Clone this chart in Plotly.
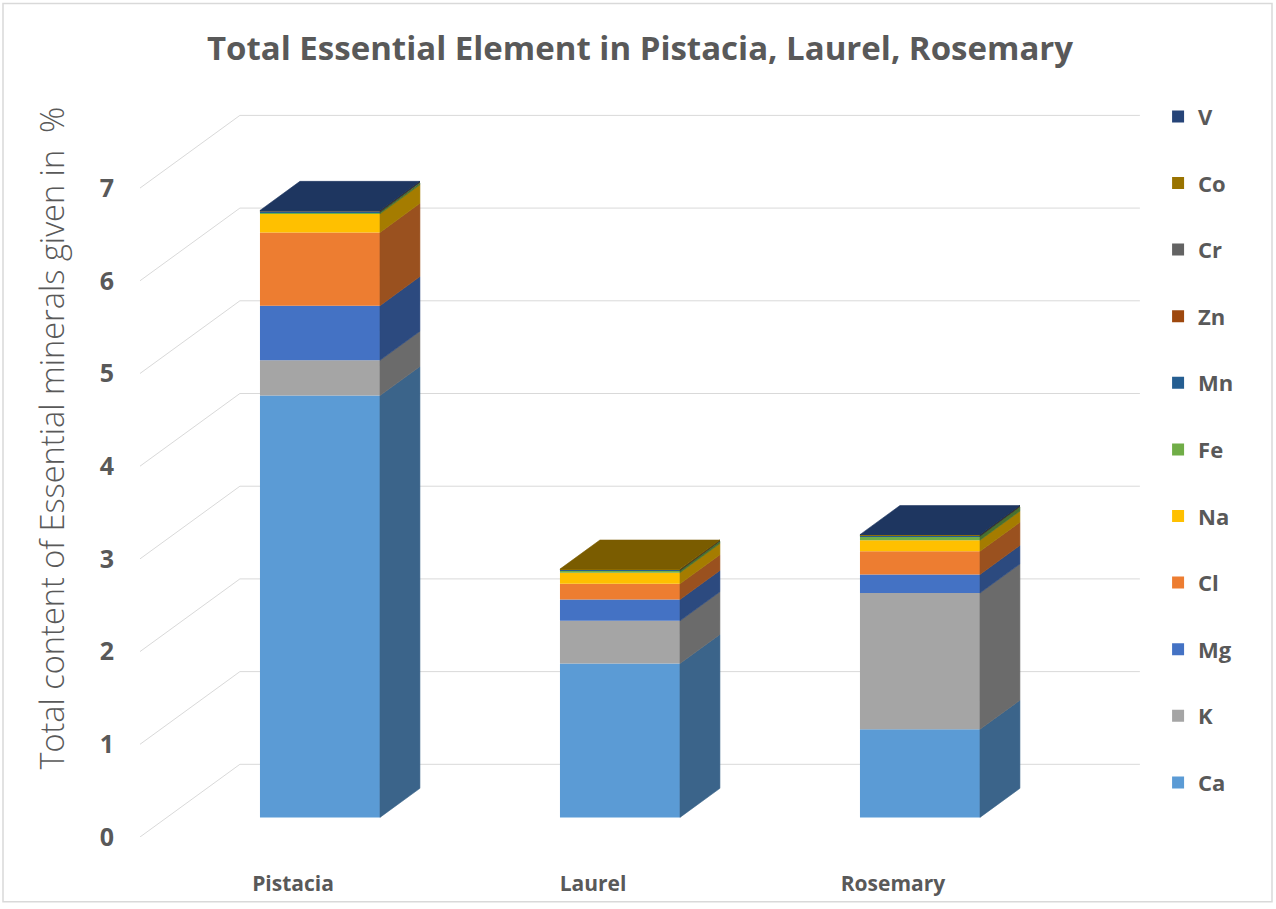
import plotly.graph_objects as go

# ---------------- data ----------------
categories = ["Pistacia", "Laurel", "Rosemary"]
elements = ["Ca", "K", "Mg", "Cl", "Na", "Fe", "Mn", "Zn", "Cr", "Co", "V"]
Ca = [4.55, 1.66, 0.95]
K = [0.38, 0.46, 1.47]
Mg = [0.59, 0.23, 0.20]
Cl = [0.79, 0.17, 0.25]
Na = [0.20, 0.12, 0.12]
Fe = [0.02, 0.025, 0.045]
Mn = [0.006, 0.004, 0.004]
Zn = [0.004, 0.003, 0.003]
Cr = [0.002, 0.002, 0.002]
Co = [0.002, 0.004, 0.002]
V = [0.003, 0.0, 0.004]
series = [Ca, K, Mg, Cl, Na, Fe, Mn, Zn, Cr, Co, V]
y_ticks = [0, 1, 2, 3, 4, 5, 6, 7]

colors = ["#5B9BD5", "#A5A5A5", "#4472C4", "#ED7D31", "#FFC000", "#70AD47",
          "#255E91", "#9E480E", "#636363", "#997300", "#264478"]

# ---------------- 3D geometry (oblique projection) ----------------
DX, DY = 0.333, 0.784          # offset of back wall relative to front plane
BAR_FRONT, BAR_DEPTH = 0.27, 0.40
BAR_W = 0.4
X_LEFT, X_RIGHT = -0.51, 2.49


def shade(hexc, f):
    h = hexc.lstrip("#")
    r, g, b = (int(h[i:i + 2], 16) for i in (0, 2, 4))
    return "rgb(%d,%d,%d)" % (r * f, g * f, b * f)


fig = go.Figure()

xs = [i + BAR_FRONT * DX for i in range(len(categories))]
y0 = BAR_FRONT * DY
cum = [y0] * len(categories)
bases = []
for s in series:
    bases.append(list(cum))
    cum = [c + v for c, v in zip(cum, s)]

n = len(elements)
# front faces (bars)
for k, (name, s, b, c) in enumerate(zip(elements, series, bases, colors)):
    fig.add_trace(go.Bar(x=xs, y=s, base=b, width=BAR_W, name=name,
                         marker=dict(color=c, line=dict(width=0)),
                         legendgroup=name, legendrank=n - k, hoverinfo="skip"))

# side faces
ddx, ddy = BAR_DEPTH * DX, BAR_DEPTH * DY
for name, s, b, c in zip(elements, series, bases, colors):
    for j, (v, bb) in enumerate(zip(s, b)):
        if v <= 0:
            continue
        xr = xs[j] + BAR_W / 2
        t = bb + v
        fig.add_trace(go.Scatter(
            x=[xr, xr + ddx, xr + ddx, xr, xr],
            y=[bb, bb + ddy, t + ddy, t, bb],
            fill="toself", mode="lines",
            line=dict(width=0.6, color=shade(c, 0.65)),
            fillcolor=shade(c, 0.65), showlegend=False, hoverinfo="skip"))

# top faces
for j in range(len(categories)):
    top_idx = max(k for k, s in enumerate(series) if s[j] > 0)
    T = cum[j]
    xl = xs[j] - BAR_W / 2
    xr = xs[j] + BAR_W / 2
    col = shade(colors[top_idx], 0.8)
    fig.add_trace(go.Scatter(
        x=[xl, xr, xr + ddx, xl + ddx, xl],
        y=[T, T, T + ddy, T + ddy, T],
        fill="toself", mode="lines", line=dict(width=0.6, color=col),
        fillcolor=col, showlegend=False, hoverinfo="skip"))

# back-wall gridlines (drawn below traces)
shapes = []
for v in y_ticks:
    shapes.append(dict(type="line", xref="x", yref="y", layer="below",
                       x0=X_LEFT, y0=v, x1=X_LEFT + DX, y1=v + DY,
                       line=dict(color="#D9D9D9", width=1)))
    shapes.append(dict(type="line", xref="x", yref="y", layer="below",
                       x0=X_LEFT + DX, y0=v + DY, x1=X_RIGHT + DX, y1=v + DY,
                       line=dict(color="#D9D9D9", width=1)))
# chart border
L, R, T_, B = 140, 1148, 100, 840
pw, ph = R - L, B - T_
shapes.append(dict(type="rect", xref="paper", yref="paper", layer="below",
                   x0=(3 - L) / pw, x1=(1272 - L) / pw,
                   y0=(B - 905) / ph, y1=(B - 3) / ph,
                   line=dict(color="#D9D9D9", width=1.5)))

fig.update_layout(
    width=1276, height=909,
    margin=dict(l=L, r=1276 - R, t=T_, b=909 - B),
    barmode="overlay",
    plot_bgcolor="white", paper_bgcolor="white",
    shapes=shapes,
    title=dict(text="<b>Total Essential Element in Pistacia, Laurel, Rosemary</b>",
               x=(640 - L) / pw, xanchor="center", xref="paper", y=1 - 48 / 909, yanchor="middle",
               font=dict(family="Open Sans", size=33, color="#595959")),
    xaxis=dict(range=[-0.51, 2.85], tickvals=[0, 1, 2], ticktext=categories,
               showgrid=False, zeroline=False, showline=False,
               ticks="outside", ticklen=28, tickcolor="rgba(0,0,0,0)",
               tickfont=dict(family="Open Sans", size=21, color="#595959", weight="bold"),
               fixedrange=True),
    yaxis=dict(range=[0, 7.95], tickvals=y_ticks,
               showgrid=False, zeroline=False, showline=False,
               ticks="outside", ticklen=20, tickcolor="rgba(0,0,0,0)",
               tickfont=dict(family="Open Sans", size=25, color="#595959", weight="bold"),
               fixedrange=True),
    legend=dict(x=1.01, xanchor="left", y=1.006, yanchor="top",
                traceorder="grouped", tracegroupgap=35, maxheight=880,
                font=dict(family="Open Sans", size=22, color="#595959", weight="bold"),
                bgcolor="rgba(0,0,0,0)"),
    annotations=[dict(text="Total content of Essential minerals given in  %",
                      xref="paper", yref="paper", x=(52 - L) / pw, y=(B - 440) / ph,
                      textangle=-90, showarrow=False, xanchor="center", yanchor="middle",
                      font=dict(family="Open Sans", size=32.5, color="#595959", weight=300))],
)

fig.write_html("out.html")
